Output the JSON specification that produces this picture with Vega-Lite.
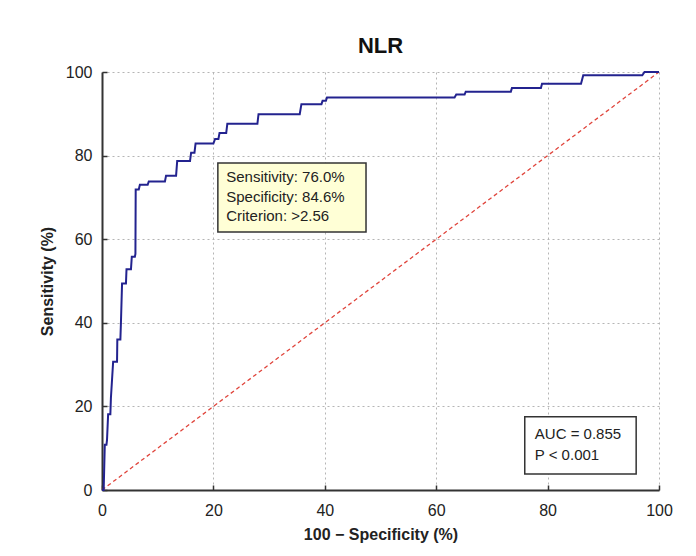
{
  "$schema": "https://vega.github.io/schema/vega-lite/v6.json",
  "width": 557,
  "height": 418,
  "autosize": "none",
  "padding": {"left": 102, "top": 72, "right": 37, "bottom": 66},
  "background": "white",
  "title": {"text": "NLR", "fontSize": 22, "font": "Liberation Sans", "fontWeight": "bold", "color": "#111", "offset": 6},
  "config": {
    "view": {"stroke": null},
    "axis": {
      "labelFont": "Liberation Sans", "labelFontSize": 16, "labelColor": "#222", "labelFlush": false,
      "titleFont": "Liberation Sans", "titleFontSize": 16, "titleFontWeight": "bold", "titleColor": "#222",
      "domainColor": "#333", "domainWidth": 2, "tickColor": "#333", "tickWidth": 1.5, "tickSize": -5,
      "gridColor": "#b5b5b5", "gridDash": [2, 3], "gridWidth": 1
    }
  },
  "datasets": {
    "roc": [
      {"i": 0, "fpr": 0, "tpr": 0},
      {"i": 1, "fpr": 0.3, "tpr": 0},
      {"i": 2, "fpr": 0.5, "tpr": 10.8},
      {"i": 3, "fpr": 0.8, "tpr": 10.8},
      {"i": 4, "fpr": 0.9, "tpr": 12.0},
      {"i": 5, "fpr": 1.1, "tpr": 18.1},
      {"i": 6, "fpr": 1.5, "tpr": 18.1},
      {"i": 7, "fpr": 1.6, "tpr": 22.0},
      {"i": 8, "fpr": 2.0, "tpr": 30.7},
      {"i": 9, "fpr": 2.7, "tpr": 30.7},
      {"i": 10, "fpr": 2.75, "tpr": 36.0},
      {"i": 11, "fpr": 3.3, "tpr": 36.0},
      {"i": 12, "fpr": 3.4, "tpr": 40.0},
      {"i": 13, "fpr": 3.6, "tpr": 49.4},
      {"i": 14, "fpr": 4.3, "tpr": 49.4},
      {"i": 15, "fpr": 4.4, "tpr": 52.8},
      {"i": 16, "fpr": 5.2, "tpr": 52.8},
      {"i": 17, "fpr": 5.35, "tpr": 55.8},
      {"i": 18, "fpr": 5.9, "tpr": 55.8},
      {"i": 19, "fpr": 6.0, "tpr": 56.5},
      {"i": 20, "fpr": 6.05, "tpr": 71.9},
      {"i": 21, "fpr": 6.6, "tpr": 71.9},
      {"i": 22, "fpr": 6.8, "tpr": 73.0},
      {"i": 23, "fpr": 8.2, "tpr": 73.0},
      {"i": 24, "fpr": 8.4, "tpr": 73.8},
      {"i": 25, "fpr": 11.3, "tpr": 73.8},
      {"i": 26, "fpr": 11.5, "tpr": 75.2},
      {"i": 27, "fpr": 13.3, "tpr": 75.2},
      {"i": 28, "fpr": 13.5, "tpr": 78.7},
      {"i": 29, "fpr": 15.8, "tpr": 78.7},
      {"i": 30, "fpr": 16.0, "tpr": 80.7},
      {"i": 31, "fpr": 16.6, "tpr": 80.7},
      {"i": 32, "fpr": 16.8, "tpr": 82.9},
      {"i": 33, "fpr": 20.0, "tpr": 82.9},
      {"i": 34, "fpr": 20.3, "tpr": 84.0},
      {"i": 35, "fpr": 20.9, "tpr": 84.0},
      {"i": 36, "fpr": 21.1, "tpr": 85.4},
      {"i": 37, "fpr": 22.3, "tpr": 85.4},
      {"i": 38, "fpr": 22.5, "tpr": 87.6},
      {"i": 39, "fpr": 27.9, "tpr": 87.6},
      {"i": 40, "fpr": 28.1, "tpr": 89.9},
      {"i": 41, "fpr": 35.5, "tpr": 89.9},
      {"i": 42, "fpr": 35.8, "tpr": 92.3},
      {"i": 43, "fpr": 39.4, "tpr": 92.3},
      {"i": 44, "fpr": 39.6, "tpr": 93.1},
      {"i": 45, "fpr": 40.2, "tpr": 93.1},
      {"i": 46, "fpr": 40.4, "tpr": 93.9},
      {"i": 47, "fpr": 63.3, "tpr": 93.9},
      {"i": 48, "fpr": 63.6, "tpr": 94.6},
      {"i": 49, "fpr": 65.1, "tpr": 94.6},
      {"i": 50, "fpr": 65.3, "tpr": 95.3},
      {"i": 51, "fpr": 73.4, "tpr": 95.3},
      {"i": 52, "fpr": 73.6, "tpr": 96.2},
      {"i": 53, "fpr": 78.8, "tpr": 96.2},
      {"i": 54, "fpr": 79.0, "tpr": 97.2},
      {"i": 55, "fpr": 86.0, "tpr": 97.2},
      {"i": 56, "fpr": 86.4, "tpr": 99.2},
      {"i": 57, "fpr": 97.0, "tpr": 99.2},
      {"i": 58, "fpr": 97.4, "tpr": 100},
      {"i": 59, "fpr": 100, "tpr": 100}
    ],
    "diag": [
      {"i": 0, "fpr": 0, "tpr": 0},
      {"i": 1, "fpr": 100, "tpr": 100}
    ],
    "box1": [{"x1": 20.8, "x2": 47.4, "y1": 61.7, "y2": 78.2}],
    "box2": [{"x1": 75.9, "x2": 95.9, "y1": 3.8, "y2": 17.5}],
    "text1": [
      {"x": 22.3, "y": 74.8, "label": "Sensitivity: 76.0%"},
      {"x": 22.3, "y": 70.1, "label": "Specificity: 84.6%"},
      {"x": 22.3, "y": 65.5, "label": "Criterion: >2.56"}
    ],
    "text2": [
      {"x": 77.7, "y": 13.3, "label": "AUC = 0.855"},
      {"x": 77.7, "y": 8.3, "label": "P < 0.001"}
    ]
  },
  "layer": [
    {
      "data": {"name": "diag"},
      "mark": {"type": "line", "color": "#e0453c", "strokeWidth": 1.3, "strokeDash": [4, 3]},
      "encoding": {
        "x": {"field": "fpr", "type": "quantitative", "scale": {"domain": [0, 100], "nice": false},
              "axis": {"title": "100 − Specificity (%)", "values": [0, 20, 40, 60, 80, 100], "titlePadding": 8, "labelPadding": 17}},
        "y": {"field": "tpr", "type": "quantitative", "scale": {"domain": [0, 100], "nice": false},
              "axis": {"title": "Sensitivity (%)", "values": [0, 20, 40, 60, 80, 100], "titlePadding": 10, "labelPadding": 15}},
        "order": {"field": "i"}
      }
    },
    {
      "data": {"name": "roc"},
      "mark": {"type": "line", "color": "#23238f", "strokeWidth": 2},
      "encoding": {
        "x": {"field": "fpr", "type": "quantitative"},
        "y": {"field": "tpr", "type": "quantitative"},
        "order": {"field": "i"}
      }
    },
    {
      "data": {"name": "box1"},
      "mark": {"type": "rect", "fill": "#ffffd6", "stroke": "#333", "strokeWidth": 1.5},
      "encoding": {
        "x": {"field": "x1", "type": "quantitative"}, "x2": {"field": "x2"},
        "y": {"field": "y1", "type": "quantitative"}, "y2": {"field": "y2"}
      }
    },
    {
      "data": {"name": "box2"},
      "mark": {"type": "rect", "fill": "white", "stroke": "#333", "strokeWidth": 1.5},
      "encoding": {
        "x": {"field": "x1", "type": "quantitative"}, "x2": {"field": "x2"},
        "y": {"field": "y1", "type": "quantitative"}, "y2": {"field": "y2"}
      }
    },
    {
      "data": {"name": "text1"},
      "mark": {"type": "text", "align": "left", "baseline": "middle", "font": "Liberation Sans", "fontSize": 15, "color": "#222"},
      "encoding": {
        "x": {"field": "x", "type": "quantitative"},
        "y": {"field": "y", "type": "quantitative"},
        "text": {"field": "label"}
      }
    },
    {
      "data": {"name": "text2"},
      "mark": {"type": "text", "align": "left", "baseline": "middle", "font": "Liberation Sans", "fontSize": 15, "color": "#222"},
      "encoding": {
        "x": {"field": "x", "type": "quantitative"},
        "y": {"field": "y", "type": "quantitative"},
        "text": {"field": "label"}
      }
    }
  ]
}
